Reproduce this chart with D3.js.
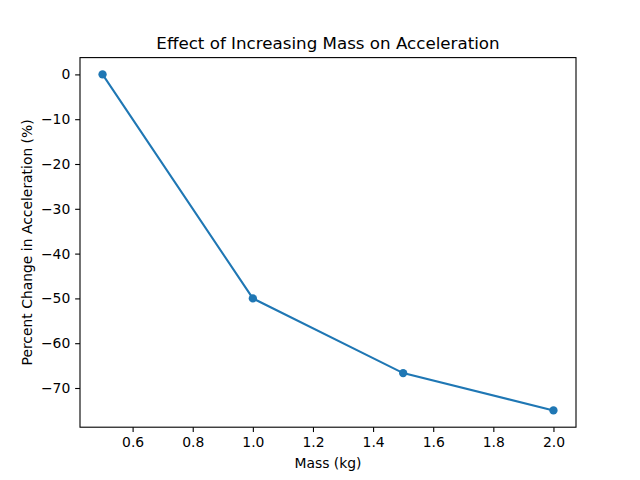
<!DOCTYPE html>
<meta charset="utf-8">
<style>
body { margin: 0; background: #fff; }
* { font-family: "DejaVu Sans", sans-serif; }
.tick text { font-size: 13.9px; fill: #000; }
.tick line, .domain { stroke: #000; stroke-width: 1.1px; }
</style>
<body>
<script src="https://cdn.jsdelivr.net/npm/d3@7"></script>
<script>

// data
var mass = [0.5, 1.0, 1.5, 2.0];
var pctChange = [0, -50, -66.67, -75];
var xTicks = [0.6, 0.8, 1.0, 1.2, 1.4, 1.6, 1.8, 2.0];
var yTicks = [0, -10, -20, -30, -40, -50, -60, -70];

var W = 640, H = 480;
var margin = {top: 57.6, right: 64, bottom: 52.8, left: 80},
    width = W - margin.left - margin.right,
    height = H - margin.top - margin.bottom;

var x = d3.scaleLinear().domain([0.425, 2.075]).range([0, width]);
var y = d3.scaleLinear().domain([-78.75, 3.75]).range([height, 0]);

var svg = d3.select("body").append("svg")
    .attr("width", W)
    .attr("height", H);

var g = svg.append("g")
    .attr("transform", "translate(" + margin.left + "," + margin.top + ")");

var pts = mass.map(function(m, i) { return {x: m, y: pctChange[i]}; });

var line = d3.line()
    .x(function(d) { return x(d.x); })
    .y(function(d) { return y(d.y); });

g.append("path")
    .datum(pts)
    .attr("d", line)
    .attr("fill", "none")
    .attr("stroke", "#1f77b4")
    .attr("stroke-width", 2.08);

g.selectAll("circle")
    .data(pts)
  .enter().append("circle")
    .attr("cx", function(d) { return x(d.x); })
    .attr("cy", function(d) { return y(d.y); })
    .attr("r", 4.17)
    .attr("fill", "#1f77b4");

// axes
g.append("g")
    .attr("transform", "translate(0," + height + ")")
    .call(d3.axisBottom(x).tickValues(xTicks).tickFormat(d3.format(".1f")).tickSize(4.86).tickPadding(4.86))
    .call(function(a) { a.select(".domain").remove(); });

g.append("g")
    .call(d3.axisLeft(y).tickValues(yTicks).tickFormat(function(d) { return d < 0 ? "\u2212" + (-d) : d; }).tickSize(4.86).tickPadding(4.86))
    .call(function(a) { a.select(".domain").remove(); });

// frame
g.append("rect")
    .attr("width", width)
    .attr("height", height)
    .attr("fill", "none")
    .attr("stroke", "#000")
    .attr("stroke-width", 1.1);

svg.append("text")
    .attr("x", margin.left + width / 2)
    .attr("y", margin.top - 9)
    .attr("text-anchor", "middle")
    .attr("font-size", "16.7px")
    .text("Effect of Increasing Mass on Acceleration");

svg.append("text")
    .attr("x", margin.left + width / 2)
    .attr("y", 468)
    .attr("text-anchor", "middle")
    .attr("font-size", "13.9px")
    .text("Mass (kg)");

svg.append("text")
    .attr("transform", "translate(32," + (margin.top + height / 2) + ")rotate(-90)")
    .attr("text-anchor", "middle")
    .attr("font-size", "13.9px")
    .text("Percent Change in Acceleration (%)");

</script>
</body>
